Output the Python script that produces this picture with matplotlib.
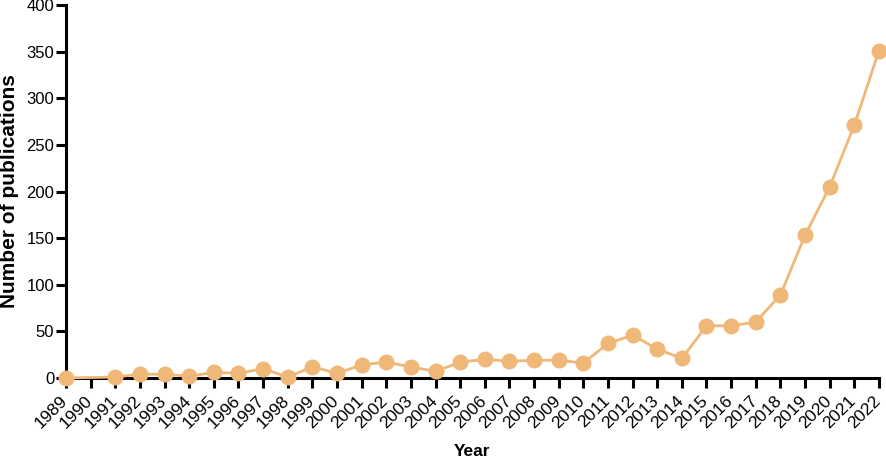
import matplotlib
matplotlib.use("Agg")
import matplotlib.pyplot as plt
import matplotlib.transforms as mtransforms

plt.rcParams['font.family'] = ['Liberation Sans', 'DejaVu Sans']

tick_years = list(range(1989, 2023))
years = [1989, 1991, 1992, 1993, 1994, 1995, 1996, 1997, 1998, 1999, 2000,
         2001, 2002, 2003, 2004, 2005, 2006, 2007, 2008, 2009, 2010,
         2011, 2012, 2013, 2014, 2015, 2016, 2017, 2018, 2019, 2020, 2021, 2022]
pubs = [0, 1, 4, 4, 2, 6, 5, 10, 1, 12, 5,
        14, 17, 12, 7, 17, 20, 18, 19, 19, 16,
        37, 46, 31, 21, 56, 56, 60, 89, 153, 205, 271, 351]

color = '#F0B878'

fig = plt.figure(figsize=(8.86, 4.59), dpi=100)
ax = fig.add_axes([0.0745, 0.1765, 0.9175, 0.8125])
ax.plot(years, pubs, color=color, lw=2, marker='o', ms=10.5, mec=color, mfc=color,
        clip_on=False, zorder=3)

ax.set_xlim(1989, 2022)
ax.set_ylim(0, 400)
ax.set_yticks(range(0, 401, 50))
ax.set_xticks(tick_years)
ax.set_xticklabels([str(y) for y in tick_years], rotation=45, ha='right',
                   rotation_mode='anchor')
for s in ['top', 'right']:
    ax.spines[s].set_visible(False)
for s in ['left', 'bottom']:
    ax.spines[s].set_linewidth(2.2)
ax.tick_params(axis='both', width=2.2, length=7)
ax.tick_params(axis='x', labelsize=12.5, pad=4)
ax.tick_params(axis='y', labelsize=12, pad=1.5)
offset = mtransforms.ScaledTranslation(-6 / 100, 0, fig.dpi_scale_trans)
for lab in ax.get_xticklabels():
    lab.set_transform(lab.get_transform() + offset)
ax.set_xlabel('Year', fontsize=12.5, fontweight='bold', va='center')
ax.xaxis.set_label_coords(0.5, -0.198)
ax.set_ylabel('Number of publications', fontsize=15, fontweight='bold', va='center')
ax.yaxis.set_label_coords(-0.069, 0.5)

fig.savefig('out.png', dpi=100)
